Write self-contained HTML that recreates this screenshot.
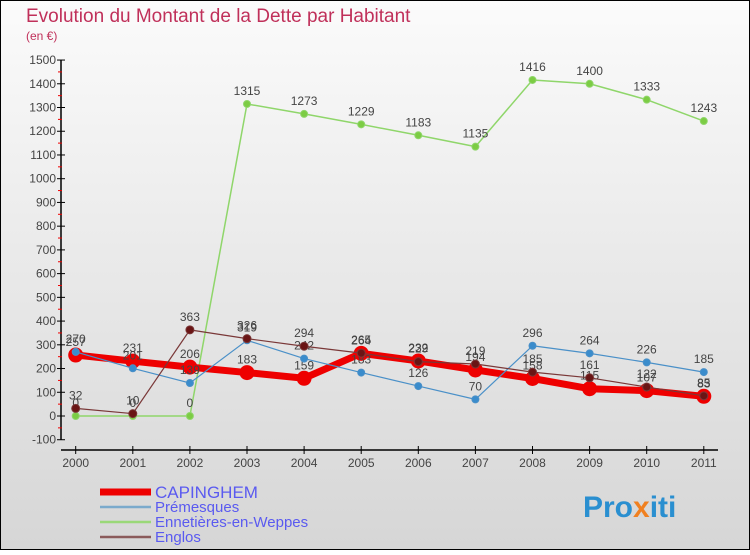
<!DOCTYPE html>
<html><head><meta charset="utf-8"><style>
html,body{margin:0;padding:0}
body{width:750px;height:550px;overflow:hidden;font-family:"Liberation Sans",sans-serif}
</style></head><body>
<svg width="750" height="550" xmlns="http://www.w3.org/2000/svg">
<defs><linearGradient id="bg" x1="0" y1="0" x2="0" y2="1"><stop offset="0" stop-color="#fbfbfb"/><stop offset="1" stop-color="#d6d6d6"/></linearGradient></defs>
<rect x="0.5" y="0.5" width="749" height="549" fill="url(#bg)" stroke="#000"/>
<text x="26" y="22" font-size="19" fill="#c0305a" font-family="DejaVu Sans ExtraLight, Liberation Sans, sans-serif">Evolution du Montant de la Dette par Habitant</text>
<text x="26" y="40" font-size="12" fill="#c0305a">(en €)</text>
<g id="axes"></g><g id="series"></g><g id="legend"></g>
<text x="583" y="517" font-size="30" font-weight="bold" fill="#2a8fd0">Pro<tspan fill="#f08020">x</tspan>iti</text>
</svg>
<script>
const years=[2000,2001,2002,2003,2004,2005,2006,2007,2008,2009,2010,2011];
const yTicks=[-100,0,100,200,300,400,500,600,700,800,900,1000,1100,1200,1300,1400,1500];
const capinghem=[257,231,206,183,159,264,232,194,158,115,107,83];
const premesques=[270,201,139,319,242,183,126,70,296,264,226,185];
const ennetieres=[0,0,0,1315,1273,1229,1183,1135,1416,1400,1333,1243];
const englos=[32,10,363,326,294,265,229,219,185,161,122,85];
const NS="http://www.w3.org/2000/svg";
function X(i){return 75.7+i*57.1;}
function Y(v){return 416-v*0.2373;}
function mk(tag,attrs,parent,txt){const e=document.createElementNS(NS,tag);for(const k in attrs)e.setAttribute(k,attrs[k]);if(txt!==undefined)e.textContent=txt;parent.appendChild(e);return e;}
const ax=document.getElementById('axes');
let yl=mk('line',{x1:61,y1:Y(1500),x2:61,y2:Y(-100),stroke:'#000','stroke-width':1.5},ax);


yTicks.forEach((t,i)=>{
  mk('line',{x1:57,y1:Y(t),x2:65,y2:Y(t),stroke:'#000'},ax);
  if(i<yTicks.length-1) mk('line',{x1:58,y1:Y(t+50),x2:62,y2:Y(t+50),stroke:'#e00'},ax);
  const tx=mk('text',{x:56,y:Y(t)+4,'font-size':12,fill:'#444','text-anchor':'end'},ax,String(t));
  
  
});
let xl=mk('line',{x1:61,y1:450,x2:718,y2:450,stroke:'#000','stroke-width':1.5},ax);


years.forEach((y,i)=>{
  mk('line',{x1:X(i),y1:446,x2:X(i),y2:454,stroke:'#000'},ax);
  const tx=mk('text',{x:X(i),y:467,'font-size':12,fill:'#444','text-anchor':'middle'},ax,String(y));
  
  
});
const sg=document.getElementById('series');
function draw(name,vals,color,w,r,fill){
  const g=mk('g',{},sg);
  
  
  const pl=mk('polyline',{points:vals.map((v,i)=>X(i)+','+Y(v)).join(' '),fill:'none',stroke:color,'stroke-width':w,'stroke-linejoin':'round'},g);
  
  
  vals.forEach((v,i)=>{
    const c=mk('circle',{cx:X(i),cy:Y(v),r:r,fill:fill,stroke:color,'stroke-width':1},g);
    
    
    const t=mk('text',{x:X(i),y:Y(v)-9,'font-size':12,fill:'#444','text-anchor':'middle'},g,String(v));
    
    
  });
}
draw('ennetieres',ennetieres,'#8fd66a',1.5,3.5,'#7ccc44');
draw('capinghem',capinghem,'#ee0000',7,7,'#ee0000');
draw('premesques',premesques,'#4a90c8',1.2,3.5,'#3a8ccc');
draw('englos',englos,'#7a3838',1.2,4,'#6a1515');
const lg=document.getElementById('legend');
const leg=[['CAPINGHEM','#ee0000',7,17],['Prémesques','#7aaacc',2.5,15],['Ennetières-en-Weppes','#9ad878',2.5,15],['Englos','#8a5a5a',2.5,15]];
leg.forEach((l,i)=>{
  const y=492+i*15;
  const g=mk('g',{},lg);
  
  
  mk('line',{x1:100,y1:y,x2:151,y2:y,stroke:l[1],'stroke-width':l[2]},g);
  mk('text',{x:155,y:y+(i==0?6:5),'font-size':l[3],fill:'#5a5af0'},g,l[0]);
});
</script>
</body></html>
